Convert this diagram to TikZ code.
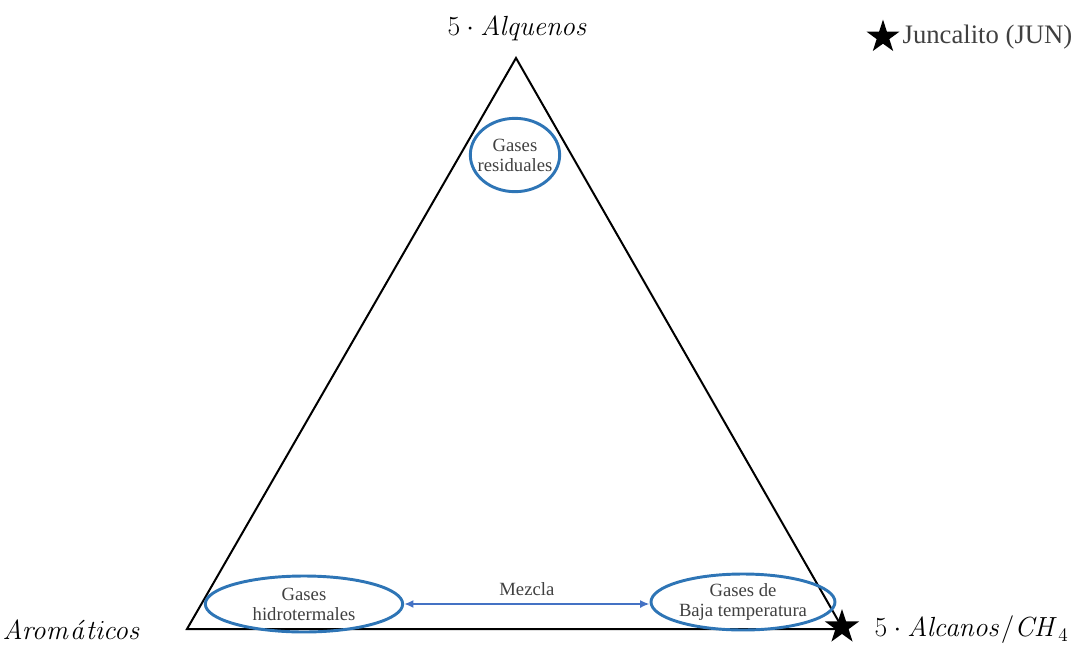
\documentclass[tikz,border=0pt]{standalone}
\usepackage[no-math]{fontspec}
\setmainfont{Liberation Serif}
\usepackage{xcolor}
\usetikzlibrary{arrows.meta,positioning,shapes.geometric}
\definecolor{zonecol}{HTML}{2E75B6}
\definecolor{mixcol}{HTML}{4472C4}
\definecolor{txtgrey}{HTML}{404040}

\begin{document}
\begin{tikzpicture}[x=0.75pt,y=-0.75pt,
  zone/.style={draw=zonecol,line width=2.2pt,ellipse,inner sep=0pt,
    font=\fontsize{14}{15}\selectfont,text=txtgrey,align=center},
  vertexlbl/.style={font=\fontsize{22}{26}\selectfont},
  starmark/.style={star,star points=5,star point ratio=2.6,fill=black,
    inner sep=0pt,minimum size=#1},
]
\useasboundingbox (0,0) rectangle (1076,644);
% the triangle
\coordinate (top) at (516,58);
\coordinate (lft) at (187,629);
\coordinate (rgt) at (843,629);
\draw[line width=1.5pt,line join=miter] (lft) -- (top) -- (rgt) -- cycle;

% vertex labels
\node[vertexlbl] (alq) at (518,29) {$5\cdot \mathit{Alquenos}$};
\node[vertexlbl] (aro) at (72,630) {$\mathit{Arom\acute{a}ticos}$};
\node[vertexlbl,anchor=west] (alc) at (870,630) {$5\cdot \mathit{Alcanos}/\mathit{CH}_4$};
\node[starmark=27pt] (jun) at (842,627) {};

% legend
\node[starmark=26pt] (legstar) at (883,37) {};
\node[font=\fontsize{20}{24}\selectfont,text=txtgrey,
      right=4pt of legstar] (leg) {Juncalito (JUN)};

% gas fields
\node[zone,inner xsep=-10pt,minimum width=67pt,minimum height=55pt]
  (res) at (515,155) {Gases\\residuales};
\node[zone,minimum width=148pt,minimum height=42pt]
  (hid) at (304,604) {Gases\\hidrotermales};
\node[zone,minimum width=138pt,minimum height=42pt]
  (baja) at (743,602) {Gases de\\Baja temperatura};

% mixing line
\draw[mixcol,line width=1.8pt,{Latex[length=7pt,width=6pt]}-{Latex[length=7pt,width=6pt]}]
  (hid.east) -- (hid.east -| baja.west)
  node[midway,above=2pt,font=\fontsize{14}{15}\selectfont,text=txtgrey] (mez) {Mezcla};
\end{tikzpicture}
\end{document}
